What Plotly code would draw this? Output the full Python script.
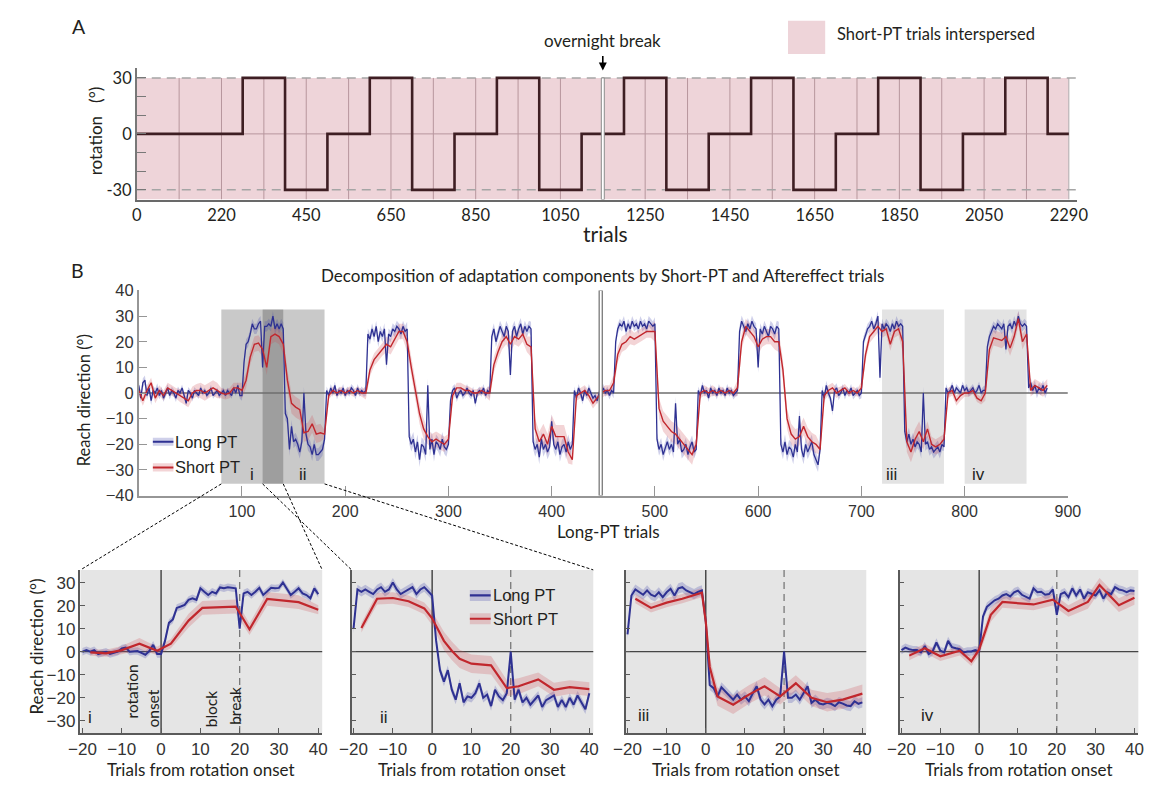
import plotly.graph_objects as go

W, H = 1166, 788
LABEL = "Lato"
NUM = "Liberation Sans"
TXT = "#231f20"
BLUE = "#2e3192"
RED = "#c1272d"
BLUE_BAND = "rgba(70,72,175,0.26)"
RED_BAND = "rgba(205,75,85,0.24)"

# ---------------- Panel A: rotation schedule (long-PT trial units) ----------------
block_starts = [0, 100, 140, 180, 220, 260, 300, 340, 380, 420, 460,
                500, 540, 580, 620, 660, 700, 740, 780, 820, 860]
schedule_end = 880
rotation_deg = [0, 30, -30, 0, 30, -30, 0, 30, -30, 0, 30,
                -30, 0, 30, -30, 0, 30, -30, 0, 30, 0]
trial_tick_pos = [0, 80, 160, 240, 320, 400, 480, 560, 640, 720, 800, 880]
trial_tick_text = ["0", "220", "450", "650", "850", "1050", "1250",
                   "1450", "1650", "1850", "2050", "2290"]
block_grid = [40, 80, 120, 160, 200, 240, 280, 320, 360, 400, 480, 520,
              560, 600, 640, 680, 720, 760, 800, 840, 880]
overnight_break_A = 440
overnight_break_B = 447.5

# ---------------- Panel B: reach direction across the session ----------------
# Long-PT reach direction, every 2nd trial from 0 to 880
long_pt = [
    3, -2, 4, 5, -1, 2, -3, 1, 0, 2,            # 0
    -1, 1, -2, 0, 2, -1, 1, 0, -2, 1,           # 20
    0, 2, -1, -4, 1, 0, -2, 1, 0, -1,           # 40
    2, 0, 1, -1, 0, 2, -1, 0, 1, -1,            # 60
    0, 1, -1, 1, 0, -1, 2, 0, 3, -1,            # 80
    -1, 12, 19, 20, 23, 27, 25, 25, 27, 28,     # 100
    10, 26, 26, 27, 26, 30, 25, 27, 25, 27,     # 120
    25, -8, -10, -22, -13, -19, -18, -20, -23, -19,   # 140
    0, -16, -20, -21, -24, -20, -24, -24, -23, -22,   # 160
    -18, 1, -1, 2, 0, 3, -1, 1, 0, 2,           # 180
    -1, 1, 0, 2, 1, -1, 2, 0, 1, 0,             # 200
    1, 23, 21, 25, 22, 26, 20, 24, 22, 25,      # 220
    11, 23, 22, 25, 24, 26, 25, 23, 26, 24,     # 240
    25, -17, -20, -18, -23, -19, -26, -20, -21, -24,  # 260
    3, -22, -18, -24, -19, -20, -22, -18, -21, -22,   # 280
    -20, -3, 1, 2, -2, 0, 1, -1, 0, 2,          # 300
    0, -1, 1, -4, 0, 1, 0, 2, -1, 1,            # 320
    0, 22, 25, 20, 23, 26, 24, 22, 26, 24,      # 340
    7, 24, 26, 22, 25, 27, 23, 26, 24, 26,      # 360
    25, -19, -22, -20, -25, -18, -22, -20, -23, -21,  # 380
    -11, -20, -22, -19, -24, -21, -20, -23, -19, -22, # 400
    -20, 1, -2, 2, 0, -3, 1, -1, 2, 0,          # 420
    -2, -1, -3, 0, 0, 2, 0, 1, -1, 1,           # 440
    0, 20, 25, 27, 26, 28, 24, 27, 25, 28,      # 460
    26, 27, 25, 28, 26, 27, 25, 28, 27, 26,     # 480
    27, -18, -22, -20, -24, -21, -19, -22, -20, -23,  # 500
    -4, -20, -18, -23, -22, -20, -24, -21, -19, -23,  # 520
    -22, 1, -1, 3, 0, 1, -2, 2, 0, 1,           # 540
    -1, 2, 0, 1, -1, 2, 0, 1, -1, 0,            # 560
    1, 24, 28, 26, 24, 27, 25, 28, 26, 25,      # 580
    10, 25, 23, 26, 24, 22, 26, 25, 23, 26,     # 600
    25, -20, -23, -19, -24, -21, -22, -25, -20, -23,  # 620
    -9, -22, -25, -20, -23, -21, -19, -24, -26, -28,  # 640
    -22, 1, -2, 3, 0, -2, -7, 1, 2, -1,         # 660
    0, 2, -1, 1, 0, 2, -1, 0, 1, -1,            # 680
    0, 20, 23, 25, 26, 28, 25, 27, 30, 6,       # 700
    27, 25, 27, 26, 24, 27, 25, 28, 26, 27,     # 720
    26, -15, -19, -16, -20, -18, -21, -19, -20, -23,  # 740
    0, -20, -19, -22, -21, -23, -22, -21, -23, -20,   # 760
    -21, 2, 0, 1, 3, 0, 2, 1, 0, 3,             # 780
    1, 2, 0, 1, 2, 0, 1, 3, 0, 1,               # 800
    1, 18, 22, 24, 26, 25, 27, 26, 25, 27,      # 820
    17, 26, 27, 25, 28, 26, 30, 27, 26, 27,     # 840
    26, 2, 4, 1, 3, 0, 2, 1, 3, 0,              # 860
    2,                                          # 880
]
# SEM of long-PT trials, one value per 20-trial segment
long_sem = [1.8, 1.5, 1.3, 1.2, 1.2, 2.0, 2.0, 2.5, 2.5, 1.5,
            1.5, 2.2, 2.2, 2.8, 2.8, 1.5, 1.5, 2.2, 2.2, 2.8,
            2.8, 1.5, 1.5, 2.0, 2.0, 2.5, 2.5, 1.5, 1.5, 2.2,
            2.2, 2.8, 2.8, 1.8, 1.5, 2.0, 2.0, 2.5, 2.5, 1.5,
            1.5, 2.0, 2.0, 2.0]

# Short-PT reach direction, every 4th trial from 0 to 880
short_pt = [
    1, -3, 1, 4, -2, 1, -1, 2, 1, 0,                 # 0
    -1, -2, -3, 0, 1, 1, 0, 1, 2, 1,                 # 40
    0, -0.5, 0, 2, 2, 1, 5, 14, 19, 19.5,            # 80
    17, 10, 22, 23, 22, 19, 5, -4, -5.5, -6.5,       # 120
    -15.5, -15, -12, -16, -15.5, -16, -1, 1, 0, 1,   # 160
    0, 1, 0, 1, 0, 0, 9, 13, 15, 17,                 # 200
    19, 18, 21, 24, 24, 20, 10, 1, -8, -14,          # 240
    -17, -19, -18, -19, -20, -18, -1, 2, 2, 1,       # 280
    1, 0, 0, 1, 0, 0, 11, 16, 20, 22,                # 320
    19, 22, 21, 23, 19, 18, -14, -19, -16, -20,      # 360
    -13, -17, -17, -17, -23, -26, -1, 0, 1, -1,      # 400
    -4, -2, 0, 1, 1, 4, 15, 19, 20, 22,              # 440
    21, 22, 23, 24, 24, 24, -6, -11, -13, -15,       # 480
    -16, -18, -20, -22, -24, -20, 0, 1, 0, 1,        # 520
    0, 1, 0, 1, 0, 2, 20, 26, 24, 22,                # 560
    18, 21, 22, 22, 20, 20, 9, -10, -16, -18,        # 600
    -17, -13, -17, -19, -20, -22, -1, 1, 2, 0,       # 640
    1, 2, 0, 1, 0, 2, 15, 22, 24, 26,                # 680
    24, 25, 19, 24, 25, 20, -19, -23, -18, -15,      # 720
    -19, -14, -20, -21, -20, -18, 0, 1, -3, -1,      # 760
    0, 0, 1, -2, -3, 0, 17, 21.5, 21, 20.5,          # 800
    22, 17.5, 22, 29, 20, 23, 1, 3, 2, 1,            # 840
    3,                                               # 880
]
short_sem = [2.0, 2.0, 2.5, 3.0, 2.0, 3.0, 3.0, 4.0, 3.5, 1.5,
             1.5, 2.5, 3.0, 4.0, 3.0, 2.0, 1.5, 3.0, 3.0, 4.0,
             4.5, 2.0, 2.0, 3.0, 2.5, 4.0, 4.0, 2.0, 1.5, 3.0,
             3.0, 4.0, 3.5, 2.0, 1.5, 2.5, 2.5, 4.0, 3.0, 2.0,
             1.5, 3.0, 3.0, 2.5]

# Highlighted windows (trials) and their labels
window_names = ["i", "ii", "iii", "iv"]
window_start = [80, 120, 720, 800]
window_end = [140, 180, 780, 860]
window_label_x = [109.5, 159.5, 729, 813]

# ---------------- Insets: trials from rotation onset ----------------
onset_offsets = list(range(-20, 41))

long_i = [0, 0.7, 0, 0.7, -1, -0.5, 0, -1, -0.5, 0, 1.4, 1.8, 0, 0.3, 0.3, -0.5, -1.3, 0.3, 3, -1,
          -1, 4.7, 12.5, 14, 19, 19.6, 20.3, 22.5, 23.2, 22.5, 27.5, 26, 24.6, 26, 25.3, 27.9, 27.5, 28, 27.6, 27.5, 10,
          25.3, 26, 24.6, 26, 27.7, 24.6, 26, 27.7, 27.5, 27.7, 30, 27.5, 24.6, 26, 27.5, 25.3, 24.6, 23.2, 27.5, 25]
long_ii = [10, 27, 26, 27, 26, 25, 27, 28, 26, 27, 30, 27, 25, 26, 27, 28, 25, 27, 28, 26,
           24.4, 5, -8, -13, -8, -16.5, -20.8, -13.7, -22, -19.4, -20, -18, -13.7, -20, -18.6, -23.6, -16.5, -19.4, -21, -18, 0,
           -20.8, -16.5, -22, -20, -23, -21, -19, -24, -21, -20, -19, -24, -21, -24, -20, -23, -19, -22, -25, -18]
long_iii = [7.5, 24.4, 27, 25.8, 24.7, 26.6, 24.7, 24, 25.8, 23.7, 25.8, 27.3, 24.4, 27.5, 28, 26.6, 25.8, 25, 26, 26.6,
            13, -14.4, -15.8, -19.4, -15.4, -17.2, -18.6, -20.8, -18.6, -20.8, -19.4, -21.5, -18, -15, -20.8, -22.9, -20.8, -23.7, -20.8, -19.4, 0,
            -20, -20, -18.6, -20.8, -18, -15, -22.2, -20.8, -22.5, -22.9, -22.2, -22.6, -23.6, -21.9, -22.5, -23.3, -23.6, -21.5, -22.6, -22]
long_iv = [0.7, 1.8, 1.1, 0.7, 0.7, -0.3, 2.5, -1, 0.1, 4, 0.4, -0.3, 4.7, 2, 1.5, 1.1, -0.3, 0.1, 0.1, 0.7,
           0.1, 15.3, 19.5, 21, 22.3, 23, 24.4, 25, 24, 25.8, 26.5, 24.7, 23.7, 23, 27.5, 25.8, 26, 24.7, 25, 27, 16,
           25, 25.8, 23.7, 27.5, 24.4, 27, 23, 25.8, 25, 24.4, 26.6, 23, 25.8, 25, 28, 27, 26.6, 25.8, 26.6, 26.3]
inset_long_sem = [1.6, 2.0, 2.2, 1.8]

short_i_x = [-18, -14, -10, -5.5, -1, 2.5, 7, 10.5, 19, 22.5, 27, 35, 40]
short_i_y = [-0.3, -0.7, 0.7, 3.5, 0.4, 3.5, 13.5, 19, 19.6, 9.7, 22.9, 21.5, 18.2]
short_i_sem = [1.5, 1.5, 1.8, 2.5, 1.8, 2, 3, 3, 3, 2.5, 3, 3, 2]
short_ii_x = [-18, -14, -10, -6, -2, 0, 3, 5, 7, 10, 15, 19, 22, 27, 31, 35, 40]
short_ii_y = [10.3, 23, 23.3, 21.9, 18.8, 14.5, 4.7, 0.4, -3.1, -5.2, -5.9, -15.8, -15, -12, -16.5, -15.4, -16.2]
short_ii_sem = [2, 2.5, 2.5, 2.5, 2.5, 3, 4, 4, 4, 4, 4, 3.5, 3.5, 3, 3, 3, 3]
short_iii_x = [-18, -14, -10, -6, -1, 0, 1, 3, 7, 11, 15, 19, 23, 27, 31, 35, 40]
short_iii_y = [23, 19, 21.3, 23, 25.6, 13, -6.6, -19.4, -23, -18.6, -15, -19.4, -13.7, -20, -21.9, -20.8, -18.2]
short_iii_sem = [2, 2, 2, 2, 2, 3, 4, 4, 4, 4, 4, 3.5, 3.5, 3.5, 4, 4, 4]
short_iv_x = [-18, -14, -10, -5, -2, 0, 3, 6, 14, 19, 23, 28, 31, 36, 40]
short_iv_y = [-1.7, 1.5, -2, 0.4, -4.2, 1, 16, 21.6, 20.5, 22.6, 17.7, 21.6, 29, 20.2, 23.4]
short_iv_sem = [2, 2, 2, 2, 2, 2.5, 3, 2.5, 2.5, 2.5, 2.5, 3, 3, 3, 3]

inset_long = [long_i, long_ii, long_iii, long_iv]
inset_short_x = [short_i_x, short_ii_x, short_iii_x, short_iv_x]
inset_short_y = [short_i_y, short_ii_y, short_iii_y, short_iv_y]
inset_short_sem = [short_i_sem, short_ii_sem, short_iii_sem, short_iv_sem]
inset_label_x = [-18, -12.3, -15.9, -13.2]
inset_label_y = [-28.5, -28.5, -27.5, -27.5]
reach_ticks = [-30, -20, -10, 0, 10, 20, 30]
onset_ticks = [-20, -10, 0, 10, 20, 30, 40]

# ---------------- geometry helpers (pixel -> paper) ----------------
def xdom(a, b):
    return [a / W, b / W]


def ydom(top, bottom):
    return [1 - bottom / H, 1 - top / H]


def band_xy(xs, ys, errs):
    up = [y + e for y, e in zip(ys, errs)]
    lo = [y - e for y, e in zip(ys, errs)]
    return list(xs) + list(xs)[::-1], up + lo[::-1]


fig = go.Figure()
shapes = []
ann = []


def text(x, y, s, size, family=LABEL, xanchor="center", yanchor="middle",
         angle=0, xref="paper", yref="paper"):
    if xref == "paper":
        x = x / W
    if yref == "paper":
        y = 1 - y / H
    ann.append(dict(x=x, y=y, xref=xref, yref=yref, text=s, showarrow=False,
                    font=dict(family=family, size=size, color=TXT),
                    xanchor=xanchor, yanchor=yanchor, textangle=angle))


# ---------------- Panel A ----------------
A_BOTTOM, A_TOP = -35.2, 30
shapes.append(dict(type="rect", xref="x", yref="y", x0=0, x1=schedule_end,
                   y0=A_BOTTOM, y1=A_TOP, fillcolor="rgb(238,212,217)",
                   line=dict(width=0), layer="below"))
for g in block_grid:
    col = "rgb(175,172,173)" if g == schedule_end else "rgb(183,150,157)"
    shapes.append(dict(type="line", xref="x", yref="y", x0=g, x1=g,
                       y0=A_BOTTOM, y1=A_TOP, line=dict(color=col, width=1),
                       layer="below"))
shapes.append(dict(type="line", xref="x", yref="y", x0=0, x1=schedule_end,
                   y0=0, y1=0, line=dict(color="rgb(183,150,157)", width=1),
                   layer="below"))
for lvl in (30, -30):
    shapes.append(dict(type="line", xref="x", yref="y", x0=0, x1=887.4,
                       y0=lvl, y1=lvl,
                       line=dict(color="rgb(165,165,165)", width=1.5, dash="9px,6px"),
                       layer="below"))
shapes.append(dict(type="rect", xref="x", yref="y",
                   x0=overnight_break_A - 1.4, x1=overnight_break_A + 1.4,
                   y0=A_BOTTOM, y1=A_TOP, fillcolor="white",
                   line=dict(color="rgb(140,140,140)", width=1), layer="above"))

fig.add_trace(go.Scatter(x=block_starts + [schedule_end],
                         y=rotation_deg + [rotation_deg[-1]],
                         mode="lines", line=dict(color="rgb(62,30,35)", width=2.6, shape="hv"),
                         xaxis="x", yaxis="y", hoverinfo="skip"))

ann.append(dict(x=overnight_break_A, y=34, xref="x", yref="y", text="",
                showarrow=True, ax=0, ay=-16, arrowhead=2, arrowsize=1,
                arrowwidth=1.6, arrowcolor="black"))
text(68, 18, "A", 19.5)
text(603, 32, "overnight break", 17)
shapes.append(dict(type="rect", xref="paper", yref="paper",
                   x0=793 / W, x1=831 / W, y0=1 - 46 / H, y1=1 - 12 / H,
                   fillcolor="rgb(238,212,217)", line=dict(width=0)))
text(841, 26, "Short-PT trials interspersed", 16.5, xanchor="left")
text(85, 125, "rotation\u00a0\u00a0\u00a0(°)", 17, angle=-90)
text(607, 230, "trials", 21)

# ---------------- Panel B ----------------
for i, name in enumerate(window_names):
    alpha = 0.21 if i < 2 else 0.11
    shapes.append(dict(type="rect", xref="x2", yref="y2",
                       x0=window_start[i], x1=window_end[i], y0=-35.4, y1=32.6,
                       fillcolor=f"rgba(0,0,0,{alpha})", line=dict(width=0),
                       layer="below"))
    text(window_label_x[i], -31.9, name, 17, family=NUM, xref="x2", yref="y2")
shapes.append(dict(type="line", xref="x2", yref="y2", x0=0, x1=900, y0=0, y1=0,
                   line=dict(color="rgb(110,110,110)", width=1.5), layer="below"))
shapes.append(dict(type="rect", xref="x2", yref="y2",
                   x0=overnight_break_B - 1.5, x1=overnight_break_B + 1.5,
                   y0=-40, y1=40, fillcolor="white",
                   line=dict(color="rgb(110,110,110)", width=1.2), layer="above"))

long_x = [2 * k for k in range(len(long_pt))]
short_x = [4 * k for k in range(len(short_pt))]
long_err = [long_sem[min(int(x // 20), len(long_sem) - 1)] for x in long_x]
short_err = [short_sem[min(int(x // 20), len(short_sem) - 1)] for x in short_x]

bx, by = band_xy(long_x, long_pt, long_err)
fig.add_trace(go.Scatter(x=bx, y=by, fill="toself", fillcolor=BLUE_BAND, mode="lines",
                         line=dict(width=0), xaxis="x2", yaxis="y2", hoverinfo="skip"))
rx, ry = band_xy(short_x, short_pt, short_err)
fig.add_trace(go.Scatter(x=rx, y=ry, fill="toself", fillcolor=RED_BAND, mode="lines",
                         line=dict(width=0), xaxis="x2", yaxis="y2", hoverinfo="skip"))
fig.add_trace(go.Scatter(x=long_x, y=long_pt, mode="lines", line=dict(color=BLUE, width=1.3),
                         xaxis="x2", yaxis="y2", hoverinfo="skip"))
fig.add_trace(go.Scatter(x=short_x, y=short_pt, mode="lines", line=dict(color=RED, width=1.4),
                         xaxis="x2", yaxis="y2", hoverinfo="skip"))

# legend of panel B
for yv, band_col, line_col, label in ((-19, BLUE_BAND, BLUE, "Long PT"),
                                      (-29, RED_BAND, RED, "Short PT")):
    shapes.append(dict(type="rect", xref="x2", yref="y2", x0=13.7, x1=33.6,
                       y0=yv - 1.6, y1=yv + 1.6, fillcolor=band_col, line=dict(width=0)))
    shapes.append(dict(type="line", xref="x2", yref="y2", x0=13.7, x1=33.6,
                       y0=yv, y1=yv, line=dict(color=line_col, width=2)))
    text(33.6, yv, label, 16.5, family=NUM, xanchor="left", xref="x2", yref="y2")

text(67, 268, "B", 19.5)
text(603, 273, "Decomposition of adaptation components by Short-PT and Aftereffect trials", 17)
text(73, 400, "Reach direction (°)", 16.5, angle=-90)
text(610, 535, "Long-PT trials", 17)

# ---------------- Insets ----------------
inset_left = [70, 347, 627, 907]
inset_right = [317, 594, 873, 1151]
for k in range(4):
    xa = f"x{k + 3}"
    ya = f"y{k + 3}"
    shapes.append(dict(type="rect", xref=f"{xa} domain", yref=f"{ya} domain",
                       x0=0, x1=1, y0=0, y1=1, fillcolor="rgb(229,229,229)",
                       line=dict(width=0), layer="below"))
    shapes.append(dict(type="line", xref=f"{xa} domain", yref=ya, x0=0, x1=1, y0=0, y1=0,
                       line=dict(color="rgb(70,70,70)", width=1.3), layer="below"))
    shapes.append(dict(type="line", xref=xa, yref=f"{ya} domain", x0=0, x1=0, y0=0, y1=1,
                       line=dict(color="rgb(35,35,35)", width=1.2), layer="below"))
    shapes.append(dict(type="line", xref=xa, yref=f"{ya} domain", x0=20, x1=20, y0=0, y1=1,
                       line=dict(color="rgb(120,120,120)", width=1.3, dash="7px,5px"),
                       layer="below"))

    bx, by = band_xy(onset_offsets, inset_long[k], [inset_long_sem[k]] * len(onset_offsets))
    fig.add_trace(go.Scatter(x=bx, y=by, fill="toself", fillcolor=BLUE_BAND, mode="lines",
                             line=dict(width=0), xaxis=xa, yaxis=ya, hoverinfo="skip"))
    rx, ry = band_xy(inset_short_x[k], inset_short_y[k], inset_short_sem[k])
    fig.add_trace(go.Scatter(x=rx, y=ry, fill="toself", fillcolor=RED_BAND, mode="lines",
                             line=dict(width=0), xaxis=xa, yaxis=ya, hoverinfo="skip"))
    fig.add_trace(go.Scatter(x=onset_offsets, y=inset_long[k], mode="lines",
                             line=dict(color=BLUE, width=2), xaxis=xa, yaxis=ya, hoverinfo="skip"))
    fig.add_trace(go.Scatter(x=inset_short_x[k], y=inset_short_y[k], mode="lines",
                             line=dict(color=RED, width=2.2), xaxis=xa, yaxis=ya, hoverinfo="skip"))

    text(inset_label_x[k], inset_label_y[k], window_names[k], 17, family=NUM, xref=xa, yref=ya)
    text((inset_left[k] + inset_right[k]) / 2, 778, "Trials from rotation onset", 17)

# legend inside inset ii
for yv, band_col, line_col, label in ((24.4, BLUE_BAND, BLUE, "Long PT"),
                                      (14.3, RED_BAND, RED, "Short PT")):
    shapes.append(dict(type="rect", xref="x4", yref="y4", x0=9.6, x1=14.9,
                       y0=yv - 2.4, y1=yv + 2.4, fillcolor=band_col, line=dict(width=0)))
    shapes.append(dict(type="line", xref="x4", yref="y4", x0=9.6, x1=14.9,
                       y0=yv, y1=yv, line=dict(color=line_col, width=2.2)))
    text(15.0, yv, label, 16.5, family=NUM, xanchor="left", xref="x4", yref="y4")

# annotations of inset i
text(25, 652, "Reach direction (°)", 17, angle=-90)
text(123, 698, "rotation", 15.5, angle=-90)
text(144, 716, "onset", 15.5, angle=-90)
text(203, 716, "block", 15.5, angle=-90)
text(228, 713, "break", 15.5, angle=-90)

# dashed connectors from the highlighted windows to the insets
bx0, bx1 = 129.5, 1079.0
def b_px(trial):
    return bx0 + (bx1 - bx0) * trial / 900.0

connectors = [(b_px(window_start[0]), inset_left[0]), (b_px(window_end[0]), inset_right[0]),
              (b_px(window_start[1]), inset_left[1]), (b_px(window_end[1]), inset_right[1])]
for top_x, bot_x in connectors:
    shapes.append(dict(type="line", xref="paper", yref="paper",
                       x0=top_x / W, y0=1 - 486 / H, x1=bot_x / W, y1=1 - 574 / H,
                       line=dict(color="black", width=1, dash="3px,2px")))

# ---------------- axes ----------------
common = dict(showgrid=False, zeroline=False, fixedrange=True)
layout = dict(
    width=W, height=H, margin=dict(l=0, r=0, t=0, b=0), autosize=False,
    paper_bgcolor="white", plot_bgcolor="rgba(0,0,0,0)",
    showlegend=False, hovermode=False,
    font=dict(family=LABEL, color=TXT),
    shapes=shapes, annotations=ann,
    xaxis=dict(domain=xdom(127.5, 1088), range=[0, 887.4], anchor="y",
               showline=True, linecolor="rgb(105,105,105)", linewidth=2,
               ticks="", tickvals=trial_tick_pos, ticktext=trial_tick_text,
               tickfont=dict(family=LABEL, size=16.5, color=TXT), **common),
    yaxis=dict(domain=ydom(60.6, 195), range=[-35.2, 35.2], anchor="x",
               showline=True, linecolor="rgb(120,120,120)", linewidth=1.5,
               ticks="inside", ticklen=9, tickwidth=1.2, tickcolor="rgb(120,120,120)",
               tickvals=reach_ticks, ticktext=["-30", "", "", "0", "", "", "30"],
               tickfont=dict(family=LABEL, size=16.5, color=TXT), **common),
    xaxis2=dict(domain=xdom(129.5, 1079), range=[0, 900], anchor="y2",
                showline=True, linecolor="rgb(150,150,150)", linewidth=1.5,
                ticks="inside", ticklen=10, tickwidth=1.2, tickcolor="rgb(150,150,150)",
                tickvals=[100, 200, 300, 400, 500, 600, 700, 800, 900],
                tickfont=dict(family=NUM, size=16, color="#333"), **common),
    yaxis2=dict(domain=ydom(288, 498), range=[-40, 40], anchor="x2",
                showline=True, linecolor="rgb(150,150,150)", linewidth=1.5,
                ticks="inside", ticklen=9, tickwidth=1.2, tickcolor="rgb(150,150,150)",
                tickvals=[-40, -30, -20, -10, 0, 10, 20, 30, 40],
                tickfont=dict(family=NUM, size=16.5, color="#333"), **common),
)
for k in range(4):
    layout[f"xaxis{k + 3}"] = dict(
        domain=xdom(inset_left[k], inset_right[k]), range=[-20.5, 41], anchor=f"y{k + 3}",
        showline=True, linecolor="rgb(90,90,90)", linewidth=1.5,
        ticks="inside", ticklen=5, tickwidth=1.2, tickcolor="rgb(90,90,90)",
        tickvals=onset_ticks, tickfont=dict(family=NUM, size=17, color="#333"), **common)
    layout[f"yaxis{k + 3}"] = dict(
        domain=ydom(574, 741), range=[-35.3, 35.5], anchor=f"x{k + 3}",
        showline=True, linecolor="rgb(90,90,90)", linewidth=1.5,
        ticks="inside", ticklen=5, tickwidth=1.2, tickcolor="rgb(90,90,90)",
        tickvals=reach_ticks, showticklabels=(k == 0),
        tickfont=dict(family=NUM, size=17, color="#333"), **common)

fig.update_layout(**layout)
fig.write_html("out.html", config={"displayModeBar": False},
               post_script="document.body.style.margin='0';")
